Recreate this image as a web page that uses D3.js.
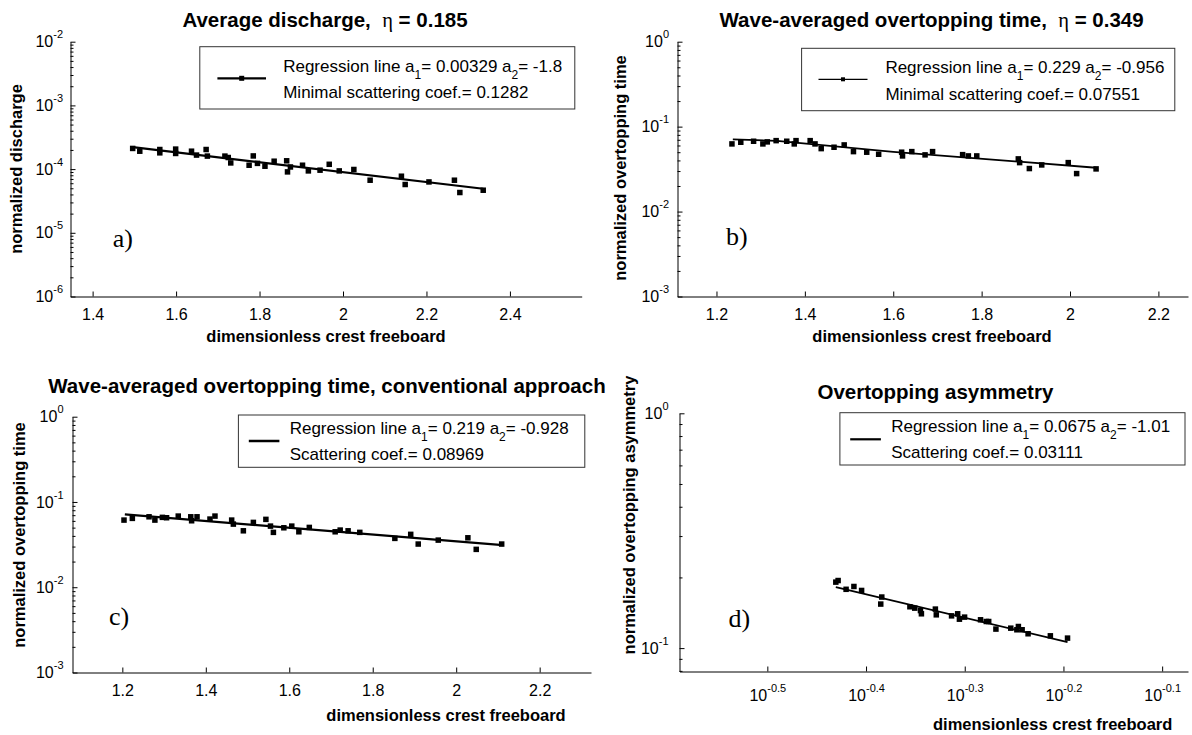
<!DOCTYPE html>
<html>
<head>
<meta charset="utf-8">
<script src="https://cdn.jsdelivr.net/npm/d3@7"></script>
<style>
  body { margin: 0; background: #fff; }
  svg { font-family: "Liberation Sans", Arial, sans-serif; }
  text { white-space: pre; fill: #000; }
</style>
</head>
<body>
<svg id="chart" width="1192" height="735"></svg>
<script>
// a) Average discharge
const aX = [1.496, 1.513, 1.561, 1.561, 1.599, 1.599, 1.637, 1.649, 1.672, 1.675, 1.717, 1.725, 1.731, 1.775, 1.785, 1.795, 1.813, 1.835, 1.865, 1.867, 1.874, 1.903, 1.917, 1.945, 1.967, 1.991, 2.026, 2.065, 2.140, 2.149, 2.206, 2.267, 2.280, 2.336];
const aY = [2.11e-4, 1.91e-4, 2.03e-4, 1.80e-4, 2.06e-4, 1.76e-4, 1.91e-4, 1.66e-4, 2.03e-4, 1.60e-4, 1.60e-4, 1.52e-4, 1.25e-4, 1.15e-4, 1.61e-4, 1.23e-4, 1.11e-4, 1.33e-4, 1.35e-4, 9.04e-5, 1.08e-4, 1.15e-4, 9.37e-5, 9.62e-5, 1.19e-4, 9.37e-5, 9.86e-5, 6.69e-5, 7.73e-5, 5.73e-5, 6.29e-5, 6.69e-5, 4.29e-5, 4.66e-5];
const aFitX = [1.496, 2.336];
const aFitY = [2.21e-4, 4.91e-5];

// b) Wave-averaged overtopping time
const bX = [1.235, 1.255, 1.284, 1.305, 1.315, 1.335, 1.359, 1.376, 1.380, 1.412, 1.423, 1.437, 1.466, 1.489, 1.510, 1.540, 1.567, 1.619, 1.621, 1.642, 1.672, 1.689, 1.757, 1.770, 1.789, 1.883, 1.886, 1.908, 1.936, 1.996, 2.015, 2.059];
const bY = [0.0626, 0.0655, 0.0673, 0.0626, 0.0661, 0.0684, 0.0673, 0.0626, 0.0684, 0.0684, 0.0626, 0.0551, 0.0572, 0.0609, 0.0508, 0.0500, 0.0473, 0.0500, 0.0452, 0.0508, 0.0465, 0.0508, 0.0468, 0.0452, 0.0452, 0.0417, 0.0377, 0.0321, 0.0354, 0.0377, 0.0280, 0.0318];
const bFitX = [1.237, 1.337, 1.6, 2.059];
const bFitY = [0.0708, 0.0680, 0.0505, 0.0328];

// c) conventional approach
const cX = [1.204, 1.224, 1.264, 1.278, 1.296, 1.306, 1.334, 1.364, 1.366, 1.379, 1.410, 1.422, 1.462, 1.466, 1.490, 1.514, 1.544, 1.555, 1.562, 1.587, 1.606, 1.623, 1.648, 1.710, 1.722, 1.741, 1.769, 1.853, 1.891, 1.909, 1.957, 2.028, 2.048, 2.109];
const cY = [0.0613, 0.0642, 0.0670, 0.0613, 0.0660, 0.0653, 0.0683, 0.0670, 0.0602, 0.0670, 0.0630, 0.0683, 0.0613, 0.0550, 0.0459, 0.0576, 0.0625, 0.0521, 0.0440, 0.0498, 0.0521, 0.0447, 0.0503, 0.0447, 0.0468, 0.0459, 0.0440, 0.0374, 0.0417, 0.0321, 0.0357, 0.0380, 0.0278, 0.0321];
const cFitX = [1.206, 2.112];
const cFitY = [0.0715, 0.0312];

// d) Overtopping asymmetry (log-log)
const dX = [0.371, 0.373, 0.380, 0.387, 0.394, 0.413, 0.412, 0.441, 0.446, 0.452, 0.453, 0.468, 0.469, 0.486, 0.493, 0.495, 0.501, 0.520, 0.527, 0.530, 0.539, 0.558, 0.566, 0.568, 0.573, 0.581, 0.612, 0.637];
const dY = [0.191, 0.194, 0.178, 0.183, 0.176, 0.165, 0.154, 0.150, 0.148, 0.1445, 0.140, 0.1466, 0.1386, 0.1372, 0.140, 0.1328, 0.1355, 0.132, 0.1298, 0.1298, 0.1205, 0.1216, 0.1197, 0.1236, 0.1197, 0.1151, 0.1128, 0.1103];
const dFitX = [0.371, 0.637];
const dFitY = [0.182, 0.106];

// Tick labels
const aXTicks = [1.4, 1.6, 1.8, 2, 2.2, 2.4];
const aYExps = [-6, -5, -4, -3, -2];
const bXTicks = [1.2, 1.4, 1.6, 1.8, 2, 2.2];
const bYExps = [-3, -2, -1, 0];
const cXTicks = [1.2, 1.4, 1.6, 1.8, 2, 2.2];
const cYExps = [-3, -2, -1, 0];
const dXExps = [-0.5, -0.4, -0.3, -0.2, -0.1];
const dYExps = [-1, 0];

const svg = d3.select('#chart');

const panels = [
  {
    x: aX, y: aY, fitX: aFitX, fitY: aFitY,
    xs: d3.scaleLinear().domain([1.347, 2.572]).range([70.5, 581.7]),
    ys: d3.scaleLog().domain([1e-6, 1e-2]).range([296.5, 41.7]),
    xTicks: aXTicks, yExps: aYExps, yPad: 7.5, xPad: 12,
    title: 'Average discharge,  ', eta: '0.185', titleX: 325, titleY: 26.7,
    ylabel: 'normalized discharge', ylx: 21.5, yly: 169,
    xlabel: 'dimensionless crest freeboard', xlx: 326, xly: 341.7,
    box: [199.8, 46.7, 574.8, 109], lineX: [217.4, 266], lineY: 78.3, lineW: 2.2, marker: 5,
    textX: 283.2, textY: [71.7, 98.3],
    a1: '0.00329', a2: '-1.8', second: 'Minimal scattering coef.= 0.1282',
    fitW: 2.2, tag: 'a)', tagX: 112.7, tagY: 246.7
  },
  {
    x: bX, y: bY, fitX: bFitX, fitY: bFitY,
    xs: d3.scaleLinear().domain([1.1118, 2.267]).range([677.5, 1188]),
    ys: d3.scaleLog().domain([1e-3, 1]).range([296.5, 41.7]),
    xTicks: bXTicks, yExps: bYExps, yPad: 8.5, xPad: 12,
    title: 'Wave-averaged overtopping time,  ', eta: '0.349', titleX: 931.6, titleY: 26.7,
    ylabel: 'normalized overtopping time', ylx: 626, yly: 168,
    xlabel: 'dimensionless crest freeboard', xlx: 932, xly: 341.7,
    box: [801.6, 48.3, 1174.8, 110.7], lineX: [818.5, 867.5], lineY: 79.3, lineW: 1.2, marker: 4,
    textX: 885.4, textY: [73.3, 100],
    a1: '0.229', a2: '-0.956', second: 'Minimal scattering coef.= 0.07551',
    fitW: 1.8, tag: 'b)', tagX: 725.9, tagY: 245
  },
  {
    x: cX, y: cY, fitX: cFitX, fitY: cFitY,
    xs: d3.scaleLinear().domain([1.0806, 2.323]).range([72.5, 591]),
    ys: d3.scaleLog().domain([1e-3, 1]).range([672.5, 416.7]),
    xTicks: cXTicks, yExps: cYExps, yPad: 9, xPad: 12,
    title: 'Wave-averaged overtopping time, conventional approach', eta: null, titleX: 327, titleY: 393.3,
    ylabel: 'normalized overtopping time', ylx: 25, yly: 535,
    xlabel: 'dimensionless crest freeboard', xlx: 446, xly: 720.7,
    box: [238.4, 415, 584.8, 467.3], lineX: [248.8, 279.4], lineY: 441, lineW: 2.5, marker: 0,
    textX: 289.7, textY: [434, 460],
    a1: '0.219', a2: '-0.928', second: 'Scattering coef.= 0.08969',
    fitW: 2.2, tag: 'c)', tagX: 109, tagY: 625
  },
  {
    x: dX, y: dY, fitX: dFitX, fitY: dFitY,
    xs: d3.scaleLog().domain([Math.pow(10, -0.589), Math.pow(10, -0.0738)]).range([679.5, 1188]),
    ys: d3.scaleLog().domain([0.0795, 1]).range([671.5, 413.3]),
    xExps: dXExps, yExps: dYExps, yPad: 11, xPad: 18.5,
    title: 'Overtopping asymmetry', eta: null, titleX: 935.4, titleY: 399.3,
    ylabel: 'normalized overtopping asymmetry', ylx: 635, yly: 515,
    xlabel: 'dimensionless crest freeboard', xlx: 1052.7, xly: 730,
    box: [839.9, 412.7, 1185, 465], lineX: [850.2, 880.9], lineY: 439.3, lineW: 2.2, marker: 0,
    textX: 891.2, textY: [431.7, 458.3],
    a1: '0.0675', a2: '-1.01', second: 'Scattering coef.= 0.03111',
    fitW: 1.8, tag: 'd)', tagX: 728.5, tagY: 626.7
  }
];

panels.forEach(drawPanel);

// Superscript label like 10^e
function powerLabel(text, exp) {
  text.text(null);
  text.append('tspan').text('10');
  text.append('tspan').attr('dy', -9).style('font-size', '11px').text(exp);
}

function drawPanel(p) {
  const g = svg.append('g');
  const x0 = p.xs.range()[0];
  const yBottom = p.ys.range()[0];

  // Minor log ticks on the y axis
  const [lo, hi] = p.ys.domain();
  const minor = [];
  for (let e = Math.floor(Math.log10(lo)); e < Math.ceil(Math.log10(hi)); e++) {
    for (let k = 2; k <= 9; k++) {
      const v = k * Math.pow(10, e);
      if (v > lo && v < hi) minor.push(v);
    }
  }
  g.append('g')
    .attr('transform', `translate(${x0},0)`)
    .call(d3.axisLeft(p.ys).tickValues(minor).tickSize(-3).tickFormat(''))
    .call(s => s.select('.domain').remove());

  // Major y axis
  const yAxis = g.append('g')
    .attr('transform', `translate(${x0},0)`)
    .call(d3.axisLeft(p.ys)
      .tickValues(p.yExps.map(e => Math.pow(10, e)))
      .tickSize(-5).tickSizeOuter(0).tickPadding(p.yPad).tickFormat(''));
  yAxis.selectAll('.tick text')
    .attr('font-size', 16).attr('font-family', null)
    .each(function(d, i) { powerLabel(d3.select(this), String(p.yExps[i])); });

  // x axis
  const xAxisGen = d3.axisBottom(p.xs).tickSize(-5).tickSizeOuter(0).tickPadding(p.xPad);
  if (p.xExps) {
    xAxisGen.tickValues(p.xExps.map(e => Math.pow(10, e))).tickFormat('');
  } else {
    xAxisGen.tickValues(p.xTicks).tickFormat(d => String(d));
  }
  const xAxis = g.append('g')
    .attr('transform', `translate(0,${yBottom})`)
    .call(xAxisGen);
  xAxis.selectAll('.tick text').attr('font-size', 16).attr('font-family', null);
  if (p.xExps) {
    xAxis.selectAll('.tick text')
      .each(function(d, i) { powerLabel(d3.select(this), String(p.xExps[i])); });
  }

  g.selectAll('.domain, .tick line').attr('stroke', '#000').attr('stroke-width', 1);

  // Regression line
  const fit = p.fitX.map((v, i) => [v, p.fitY[i]]);
  g.append('path')
    .datum(fit)
    .attr('d', d3.line().x(d => p.xs(d[0])).y(d => p.ys(d[1])))
    .attr('fill', 'none')
    .attr('stroke', '#000')
    .attr('stroke-width', p.fitW);

  // Data points
  const pts = p.x.map((v, i) => [v, p.y[i]]);
  g.selectAll('.pt')
    .data(pts)
    .enter()
    .append('rect')
    .attr('class', 'pt')
    .attr('x', d => p.xs(d[0]) - 2.75)
    .attr('y', d => p.ys(d[1]) - 2.75)
    .attr('width', 5.5)
    .attr('height', 5.5)
    .attr('fill', '#000');

  // Title
  const t = g.append('text')
    .attr('x', p.titleX).attr('y', p.titleY)
    .attr('text-anchor', 'middle')
    .style('font-size', '20.5px').style('font-weight', 'bold')
    .text(p.title);
  if (p.eta) {
    t.append('tspan').style('font-weight', 'normal').style('font-family', 'serif').text('η');
    t.append('tspan').text(' = ' + p.eta);
  }

  // Axis labels
  g.append('text')
    .attr('transform', `translate(${p.ylx},${p.yly}) rotate(-90)`)
    .attr('text-anchor', 'middle')
    .style('font-size', '16.5px').style('font-weight', 'bold')
    .text(p.ylabel);
  g.append('text')
    .attr('x', p.xlx).attr('y', p.xly)
    .attr('text-anchor', 'middle')
    .style('font-size', '16.5px').style('font-weight', 'bold')
    .text(p.xlabel);

  // Panel tag
  g.append('text')
    .attr('x', p.tagX).attr('y', p.tagY)
    .style('font-family', '"Liberation Serif", "DejaVu Serif", serif')
    .style('font-size', '26px')
    .text(p.tag);

  // Legend
  const [bx0, by0, bx1, by1] = p.box;
  g.append('rect')
    .attr('x', bx0).attr('y', by0)
    .attr('width', bx1 - bx0).attr('height', by1 - by0)
    .attr('fill', '#fff').attr('stroke', '#333').attr('stroke-width', 1);
  g.append('line')
    .attr('x1', p.lineX[0]).attr('x2', p.lineX[1])
    .attr('y1', p.lineY).attr('y2', p.lineY)
    .attr('stroke', '#000').attr('stroke-width', p.lineW);
  if (p.marker) {
    const mx = (p.lineX[0] + p.lineX[1]) / 2;
    g.append('rect')
      .attr('x', mx - p.marker / 2).attr('y', p.lineY - p.marker / 2)
      .attr('width', p.marker).attr('height', p.marker)
      .attr('fill', '#000');
  }
  const l1 = g.append('text')
    .attr('x', p.textX).attr('y', p.textY[0])
    .style('font-size', '17px');
  l1.append('tspan').text('Regression line a');
  l1.append('tspan').attr('dy', 7).style('font-size', '12px').text('1');
  l1.append('tspan').attr('dy', -7).text('= ' + p.a1 + ' a');
  l1.append('tspan').attr('dy', 7).style('font-size', '12px').text('2');
  l1.append('tspan').attr('dy', -7).text('= ' + p.a2);
  g.append('text')
    .attr('x', p.textX).attr('y', p.textY[1])
    .style('font-size', '17px')
    .text(p.second);
}
</script>
</body>
</html>
